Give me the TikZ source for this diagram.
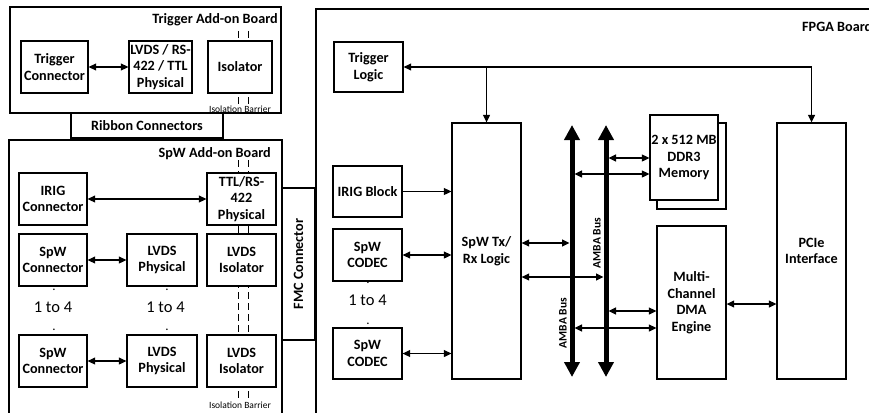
\documentclass[tikz,border=0pt]{standalone}
\usepackage{fontspec}
\setmainfont{Carlito}
\usetikzlibrary{arrows.meta,calc}

\begin{document}
\begin{tikzpicture}[
    x=1pt, y=-1pt,
    board/.style={
        draw,
        line width=1.3pt,
        fill=white
    },
    block/.style={
        draw,
        line width=1.3pt,
        fill=white,
        align=center,
        inner sep=0.5pt,
        font=\bfseries\fontsize{14.2}{16.5}\selectfont
    },
    boardlabel/.style={font=\bfseries\fontsize{14.2}{16}\selectfont, inner sep=0pt},
    barrier/.style={line width=0.6pt, dash pattern=on 7pt off 4pt},
    barrierlabel/.style={font=\fontsize{9.5}{11}\selectfont, inner sep=0pt},
    countlabel/.style={font=\fontsize{16.5}{18}\selectfont, inner sep=0pt},
    dotlabel/.style={font=\fontsize{13}{14}\selectfont, inner sep=0pt},
    buslabel/.style={font=\bfseries\fontsize{11.5}{12}\selectfont, rotate=90, inner sep=0pt},
    arrow/.style={-{Triangle[length=7.5pt, width=7pt]}, line width=1.3pt},
    biarrow/.style={{Triangle[length=7.5pt, width=7pt]}-{Triangle[length=7.5pt, width=7pt]}, line width=1.3pt},
    tobus/.style={biarrow, shorten >=2.5pt},
    frombus/.style={biarrow, shorten <=2.5pt},
    bus/.style={{Triangle[length=15pt, width=15pt]}-{Triangle[length=15pt, width=15pt]}, line width=5pt}
]
\useasboundingbox (0,0) rectangle (869,412);
\clip (0,0) rectangle (869,412);

% --- Placas ---
\node[board, minimum width=271pt, minimum height=106pt] (trigboard) at (145.5,60) {};
\node[board, minimum width=273pt, minimum height=300pt] (spwboard) at (145.5,290) {};
\node[board, minimum width=584pt, minimum height=431pt] (fpgaboard) at (608,224.5) {};

\node[boardlabel, anchor=east] at (278,20) {Trigger Add-on Board};
\node[boardlabel, anchor=east] at (271,154) {SpW Add-on Board};
\node[boardlabel, anchor=west] at (802,27) {FPGA Board};

% --- Barreras de aislamiento ---
\draw[barrier] (238,31) -- (238,104);
\draw[barrier] (248,31) -- (248,104);
\draw[barrier] (238,160) -- (238,400);
\draw[barrier] (248,160) -- (248,400);
\node[barrierlabel] at (240,109) {Isolation Barrier};
\node[barrierlabel] at (240,405) {Isolation Barrier};

% --- Conectores entre placas ---
\node[block, minimum width=152pt, minimum height=25pt] (ribbon) at (147,125.5) {Ribbon Connectors};
\node[block, rotate=90, minimum width=152pt, minimum height=33pt] (fmc) at (298.5,264) {FMC Connector};

% --- Trigger Add-on Board ---
\node[block, minimum width=67pt, minimum height=52pt] (trigconn) at (54.5,67) {Trigger\\Connector};
\node[block, minimum width=63pt, minimum height=52pt] (trigphys) at (160.5,67) {LVDS / RS-\\422 / TTL\\Physical};
\node[block, minimum width=64pt, minimum height=52pt] (trigiso) at (240,67) {Isolator};

\draw[biarrow] (trigconn) -- (trigphys);

% --- SpW Add-on Board ---
\node[block, minimum width=68pt, minimum height=52pt] (irigconn) at (53,199) {IRIG\\Connector};
\node[block, minimum width=69pt, minimum height=52pt] (ttlphys) at (241.5,199) {TTL/RS-\\422\\Physical};
\node[block, minimum width=68pt, minimum height=52pt] (spwconnA) at (53,260) {SpW\\Connector};
\node[block, minimum width=70pt, minimum height=52pt] (lvdsphysA) at (162,260) {LVDS\\Physical};
\node[block, minimum width=69pt, minimum height=52pt] (lvdsisoA) at (241.5,260) {LVDS\\Isolator};
\node[block, minimum width=68pt, minimum height=52pt] (spwconnB) at (53,361) {SpW\\Connector};
\node[block, minimum width=70pt, minimum height=52pt] (lvdsphysB) at (162,361) {LVDS\\Physical};
\node[block, minimum width=69pt, minimum height=52pt] (lvdsisoB) at (241.5,361) {LVDS\\Isolator};

\node[dotlabel] at (54,290) {.};
\node[countlabel] (spwcount) at (53,307) {1 to 4};
\node[dotlabel] at (54,330) {.};
\node[dotlabel] at (167,290) {.};
\node[countlabel] (lvdscount) at (165.5,307) {1 to 4};
\node[dotlabel] at (167,330) {.};

\draw[biarrow] (irigconn) -- (ttlphys);
\draw[biarrow] (spwconnA) -- (lvdsphysA);
\draw[biarrow] (spwconnB) -- (lvdsphysB);

% --- FPGA Board ---
\node[block, minimum width=69pt, minimum height=50pt] (triglogic) at (368.5,67) {Trigger\\Logic};
\node[block, minimum width=69pt, minimum height=51pt] (irigblk) at (367.5,191.5) {IRIG Block};
\node[block, minimum width=69pt, minimum height=52pt] (codecA) at (367.5,255) {SpW\\CODEC};
\node[block, minimum width=69pt, minimum height=51pt] (codecB) at (367.5,353.5) {SpW\\CODEC};
\node[block, minimum width=69pt, minimum height=256pt] (txrx) at (486.5,251) {SpW Tx/\\Rx Logic};

\node[dotlabel] at (368,283) {.};
\node[countlabel] (codeccount) at (367.5,300) {1 to 4};
\node[dotlabel] at (368,324) {.};

\node[block, minimum width=69pt, minimum height=86pt] (memback) at (691.5,166) {};
\node[block, minimum width=68pt, minimum height=85pt] (mem) at (684,157.5) {2 x 512 MB\\DDR3\\Memory};
\node[block, minimum width=69pt, minimum height=153pt] (dma) at (691.5,302.5) {Multi-\\Channel\\DMA\\Engine};
\node[block, minimum width=69pt, minimum height=256pt] (pcie) at (811.5,251) {PCIe\\Interface};

% --- Buses AMBA ---
\coordinate (bus1top) at (572,125);
\coordinate (bus1bot) at (572,377);
\coordinate (bus2top) at (606,125);
\coordinate (bus2bot) at (606,377);
\draw[bus] (bus1bot) -- (bus1top);
\draw[bus] (bus2bot) -- (bus2top);
\node[buslabel] at (563,323) {AMBA Bus};
\node[buslabel] at (597,243) {AMBA Bus};

% --- Flechas FPGA ---
\draw[biarrow] (triglogic) -| (pcie);
\draw[arrow] (triglogic -| txrx) -- (txrx);
\draw[arrow] (irigblk) -- (irigblk -| txrx.west);
\draw[biarrow] (codecA) -- (codecA -| txrx.west);
\draw[biarrow] (codecB) -- (codecB -| txrx.west);

\draw[tobus] (txrx.east |- 0,243) -- (bus1top |- 0,243);
\draw[tobus] (txrx.east |- 0,277) -- (bus2top |- 0,277);
\draw[frombus] (bus2top |- 0,158) -- (mem.west |- 0,158);
\draw[frombus] (bus1top |- 0,174) -- (mem.west |- 0,174);
\draw[frombus] (bus2top |- 0,311) -- (dma.west |- 0,311);
\draw[frombus] (bus1top |- 0,328) -- (dma.west |- 0,328);
\draw[biarrow] (dma.east |- 0,304) -- (pcie.west |- 0,304);

\end{tikzpicture}
\end{document}
